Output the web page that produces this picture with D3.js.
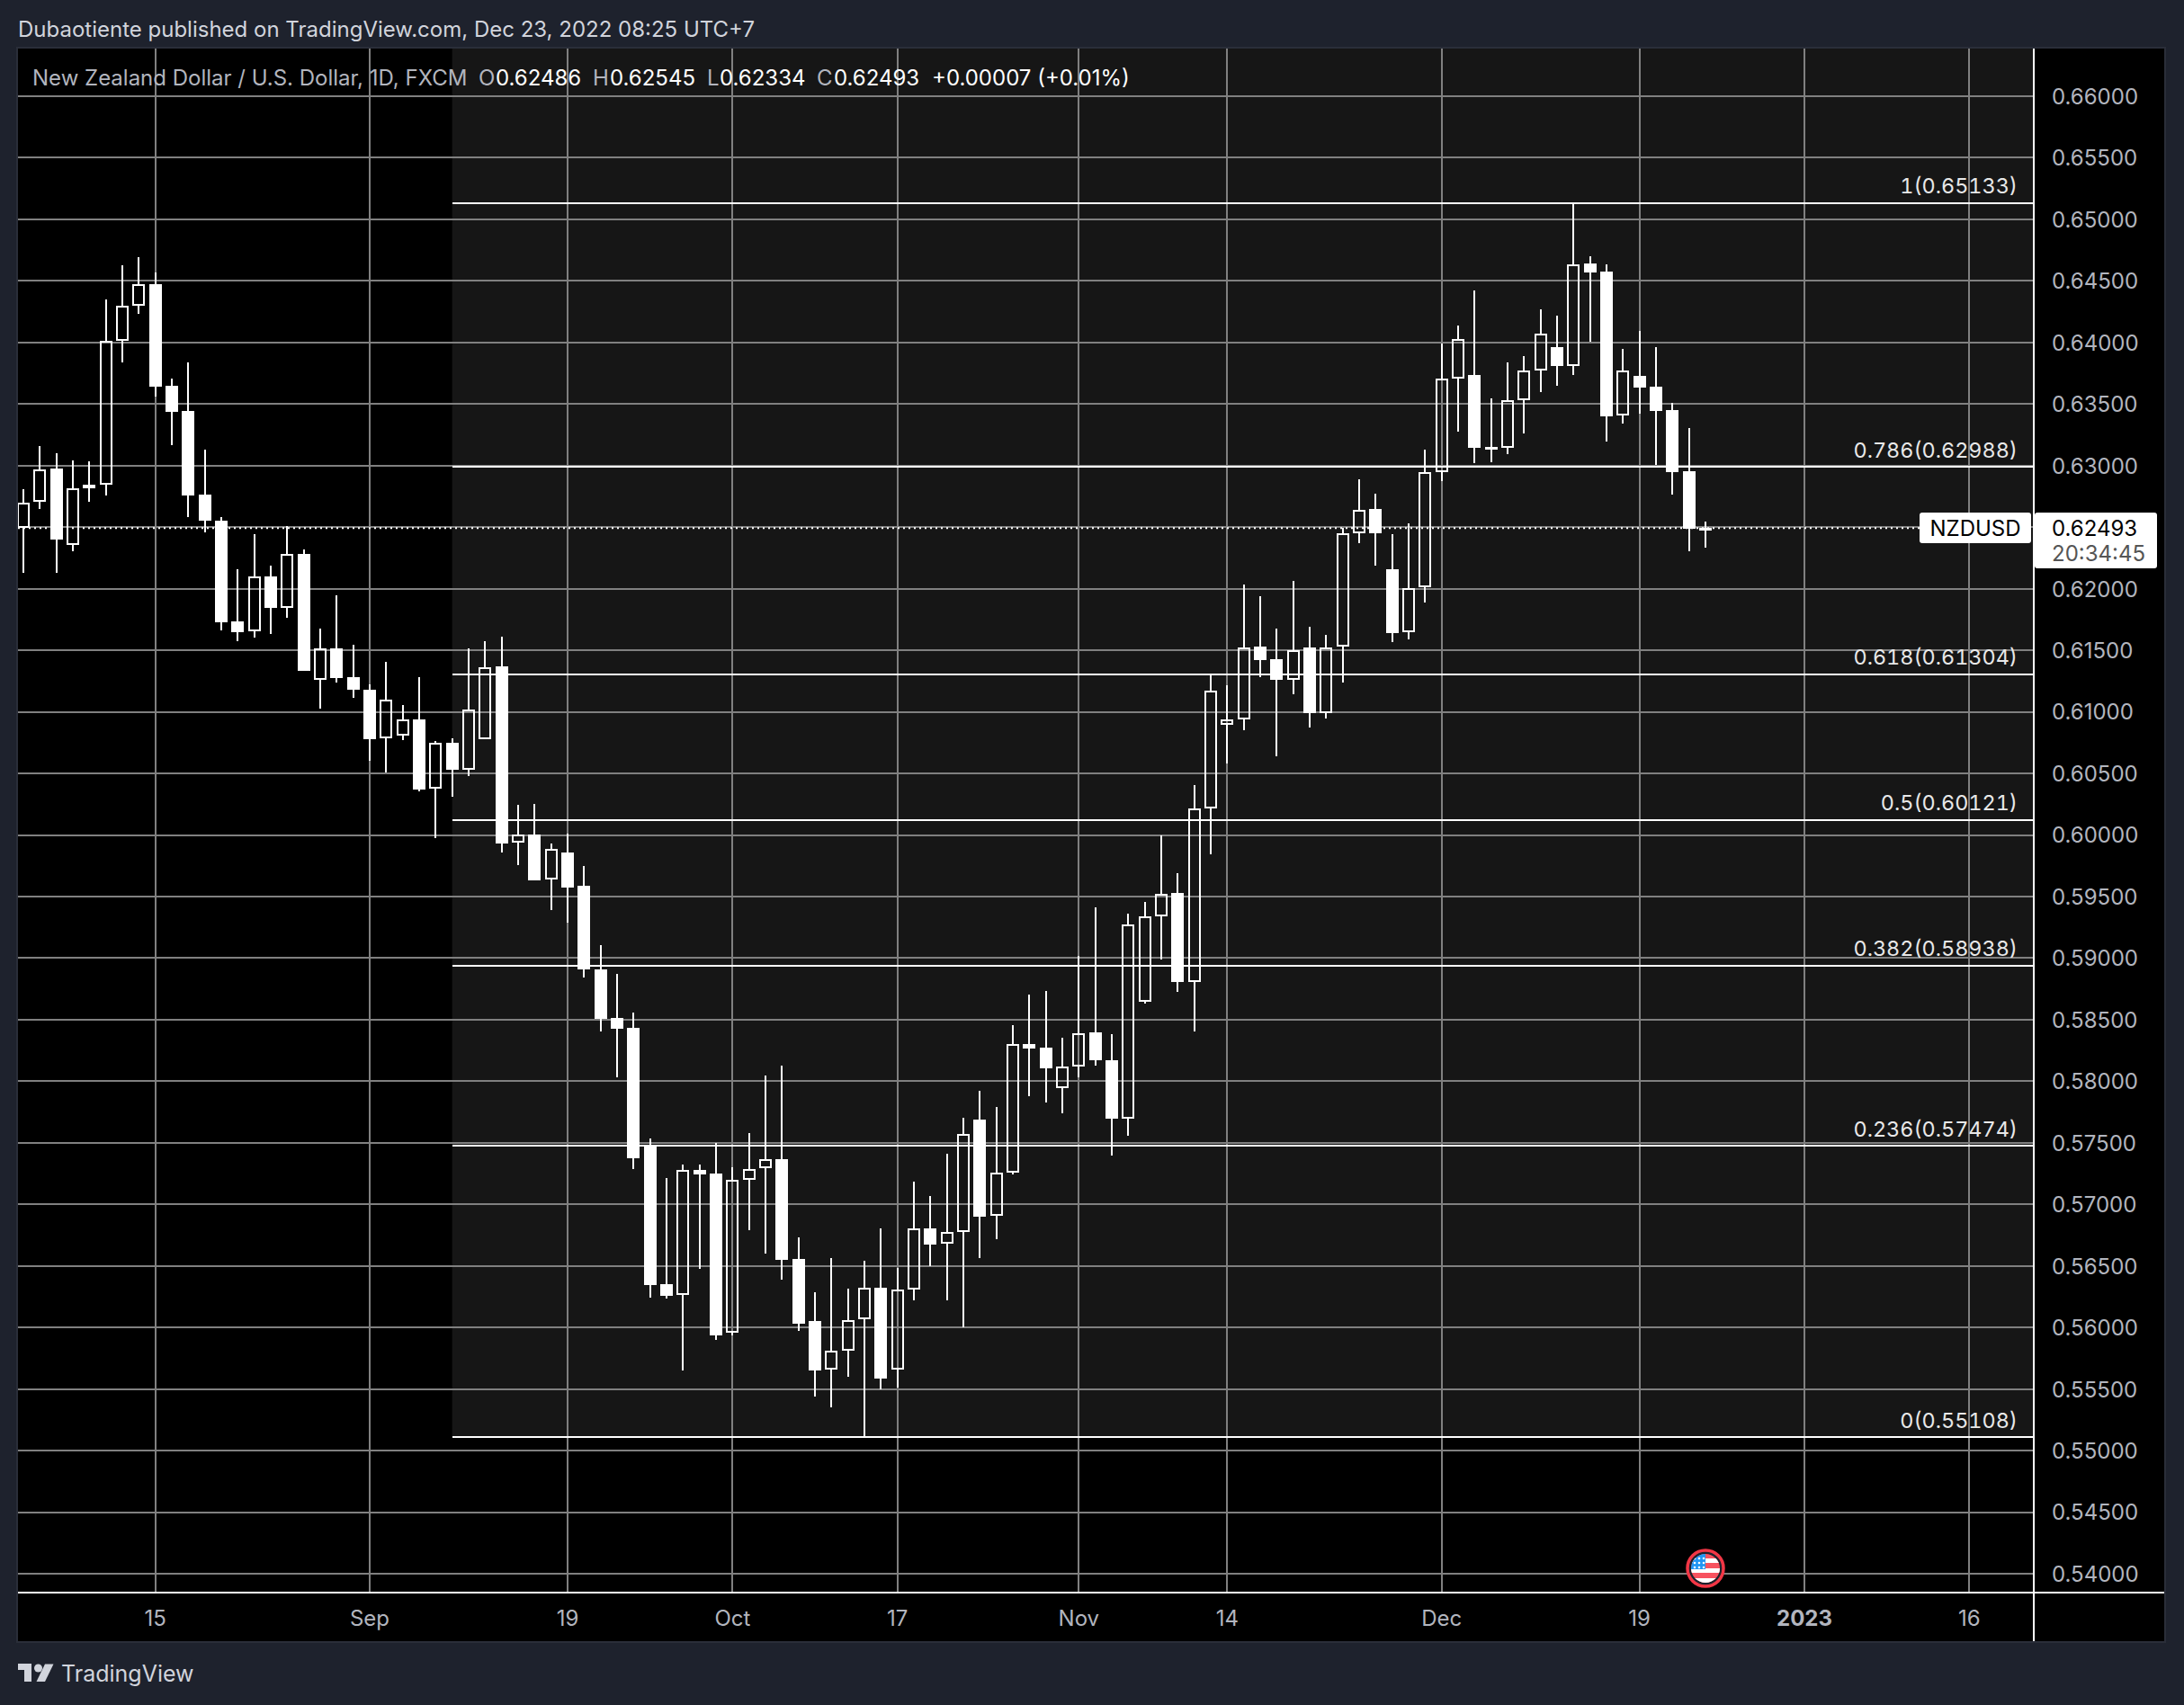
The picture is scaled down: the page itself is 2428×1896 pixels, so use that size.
<!DOCTYPE html>
<html>
<head>
<meta charset="utf-8">
<title>NZDUSD</title>
<script src="https://cdn.jsdelivr.net/npm/d3@7"></script>
<style>
  html, body { margin: 0; padding: 0; background: #1e222d; }
  text { font-family: Inter, "Noto Sans", sans-serif; }
  .fiblabel { font-variant-numeric: tabular-nums; }
</style>
</head>
<body>
<div id="canvas"></div>
<script>
"use strict"

/* Daily candles */
let opens = [
    0.62491, 0.62703, 0.62973, 0.62354, 0.62814, 0.62843, 0.64014, 0.64298, 0.64477, 0.63645,
    0.63446, 0.62761, 0.62556, 0.61731, 0.61652, 0.62102, 0.61845, 0.62285, 0.61258, 0.61519,
    0.61284, 0.61183, 0.60785, 0.60804, 0.60941, 0.60374, 0.60752, 0.60527, 0.60779, 0.61366,
    0.59936, 0.60007, 0.59638, 0.59861, 0.59584, 0.58909, 0.58515, 0.58435, 0.57475, 0.56355,
    0.56263, 0.57282, 0.57252, 0.55961, 0.57198, 0.57294, 0.57370, 0.56556, 0.56053, 0.55655,
    0.55810, 0.56066, 0.56326, 0.55655, 0.56305, 0.56808, 0.56678, 0.56776, 0.57686, 0.56907,
    0.57257, 0.58305, 0.58271, 0.57943, 0.58119, 0.58394, 0.58174, 0.57697, 0.58648, 0.59342,
    0.59528, 0.58808, 0.60218, 0.60896, 0.60941, 0.61530, 0.61426, 0.61262, 0.61523, 0.60993,
    0.61531, 0.62452, 0.62648, 0.62160, 0.61644, 0.62013, 0.62948, 0.63704, 0.63736, 0.63144,
    0.63147, 0.63534, 0.63776, 0.63964, 0.63811, 0.64642, 0.64576, 0.63404, 0.63730, 0.63641,
    0.63453, 0.62957, 0.62486
];
let highs = [
    0.62807, 0.63156, 0.63097, 0.63045, 0.63032, 0.64347, 0.64624, 0.64689, 0.64565, 0.63704,
    0.63835, 0.63127, 0.62579, 0.62155, 0.62445, 0.62190, 0.62507, 0.62318, 0.61678, 0.61943,
    0.61545, 0.61222, 0.61404, 0.61055, 0.61284, 0.60765, 0.60788, 0.61517, 0.61571, 0.61613,
    0.60246, 0.60255, 0.59932, 0.60011, 0.59751, 0.59102, 0.58875, 0.58561, 0.57533, 0.57215,
    0.57324, 0.57324, 0.57500, 0.57303, 0.57580, 0.58049, 0.58129, 0.56733, 0.56288, 0.56565,
    0.56317, 0.56544, 0.56808, 0.56485, 0.57185, 0.57068, 0.57412, 0.57701, 0.57921, 0.57794,
    0.58454, 0.58700, 0.58730, 0.58350, 0.59021, 0.59409, 0.58380, 0.59360, 0.59453, 0.60000,
    0.59688, 0.60404, 0.61299, 0.61213, 0.62034, 0.61940, 0.61676, 0.62063, 0.61691, 0.61623,
    0.62492, 0.62890, 0.62772, 0.62446, 0.62532, 0.63130, 0.63993, 0.64137, 0.64423, 0.63545,
    0.63840, 0.63889, 0.64270, 0.64218, 0.65133, 0.64700, 0.64633, 0.63950, 0.64094, 0.63964,
    0.63508, 0.63306, 0.62545
];
let lows = [
    0.62129, 0.62644, 0.62129, 0.62301, 0.62706, 0.62755, 0.63841, 0.64229, 0.63557, 0.63169,
    0.62585, 0.62461, 0.61659, 0.61571, 0.61600, 0.61629, 0.61766, 0.61330, 0.61023, 0.61235,
    0.61111, 0.60605, 0.60507, 0.60771, 0.60351, 0.59972, 0.60312, 0.60481, 0.60779, 0.59861,
    0.59756, 0.59634, 0.59391, 0.59290, 0.58846, 0.58406, 0.58032, 0.57290, 0.56242, 0.56238,
    0.55647, 0.56477, 0.55902, 0.55932, 0.56791, 0.56603, 0.56389, 0.55974, 0.55441, 0.55353,
    0.55600, 0.55108, 0.55500, 0.55512, 0.56221, 0.56500, 0.56221, 0.56000, 0.56560, 0.56720,
    0.57246, 0.57876, 0.57824, 0.57742, 0.58029, 0.58130, 0.57399, 0.57559, 0.58629, 0.58987,
    0.58723, 0.58402, 0.59841, 0.60579, 0.60848, 0.61280, 0.60639, 0.61142, 0.60870, 0.60945,
    0.61237, 0.62368, 0.62189, 0.61563, 0.61592, 0.61889, 0.62876, 0.63277, 0.63020, 0.63029,
    0.63095, 0.63263, 0.63597, 0.63649, 0.63736, 0.64007, 0.63196, 0.63343, 0.63421, 0.63003,
    0.62766, 0.62307, 0.62334
];
let closes = [
    0.62699, 0.62967, 0.62396, 0.62817, 0.62846, 0.64014, 0.64298, 0.64474, 0.63639, 0.63440,
    0.62755, 0.62549, 0.61724, 0.61649, 0.62099, 0.61841, 0.62282, 0.61336, 0.61515, 0.61277,
    0.61176, 0.60781, 0.61098, 0.60938, 0.60370, 0.60749, 0.60533, 0.61018, 0.61362, 0.59932,
    0.60003, 0.59634, 0.59886, 0.59575, 0.58905, 0.58510, 0.58427, 0.57374, 0.56347, 0.56259,
    0.57278, 0.57244, 0.55936, 0.57198, 0.57290, 0.57366, 0.56552, 0.56032, 0.55651, 0.55810,
    0.56062, 0.56322, 0.55588, 0.56305, 0.56804, 0.56674, 0.56774, 0.57570, 0.56903, 0.57257,
    0.58301, 0.58264, 0.58107, 0.58119, 0.58391, 0.58167, 0.57693, 0.59274, 0.59342, 0.59524,
    0.58805, 0.60218, 0.61169, 0.60941, 0.61526, 0.61418, 0.61258, 0.61500, 0.60990, 0.61526,
    0.62449, 0.62642, 0.62452, 0.61641, 0.62007, 0.62945, 0.63704, 0.64025, 0.63144, 0.63155,
    0.63534, 0.63776, 0.64074, 0.63808, 0.64636, 0.64570, 0.63401, 0.63776, 0.63635, 0.63444,
    0.62948, 0.62486, 0.62493
];

/* Axis ticks */
let priceTicks = [
    0.54, 0.545, 0.55, 0.555, 0.56, 0.565, 0.57, 0.575, 0.58, 0.585, 0.59, 0.595, 0.6,
    0.605, 0.61, 0.615, 0.62, 0.625, 0.63, 0.635, 0.64, 0.645, 0.65, 0.655, 0.66
];
let dateTicks = [8, 21, 33, 43, 53, 64, 73, 86, 98, 108, 118];   // bar numbers
let dateLabels = ["15", "Sep", "19", "Oct", "17", "Nov", "14", "Dec", "19", "2023", "16"];

/* Fibonacci retracement */
let fibRatios = ["1", "0.786", "0.618", "0.5", "0.382", "0.236", "0"];
let fibPrices = [0.65133, 0.62988, 0.61304, 0.60121, 0.58938, 0.57474, 0.55108];
let fibStartBar = 26;

/* Last price */
let lastPrice = 0.62493;
let lastBar = 102;

/* Configuration: drawing */
let svgWidth = 2428;
let svgHeight = 1896;
let paneLeft = 20;
let paneRight = 2261;
let paneTop = 54;
let paneBottom = 1771;
let outerRight = 2406;
let outerBottom = 1825;

let pageColor = "#1e222d";
let borderColor = "#2a2e39";
let gridColor = "#808080";
let shadeColor = "#161616";
let axisTextColor = "#b2b5be";

let svg = d3.select("#canvas")
    .append("svg")
    .attr("width", svgWidth)
    .attr("height", svgHeight)
    .style("display", "block");

/* Scales */
let xScale = d3.scaleLinear()
    .domain([0, lastBar])
    .range([26, 1896]);

let yScale = d3.scaleLinear()
    .domain([0.54, 0.66])
    .range([1750, 107]);

/* Page and pane backgrounds */
svg.append("rect")
    .attr("width", svgWidth)
    .attr("height", svgHeight)
    .attr("fill", pageColor);

svg.append("rect")
    .attr("x", paneLeft - 1)
    .attr("y", paneTop - 1)
    .attr("width", outerRight - paneLeft + 2)
    .attr("height", outerBottom - paneTop + 2)
    .attr("fill", "#000")
    .attr("stroke", borderColor)
    .attr("stroke-width", 2);

/* Shaded part of the fib tool runs from the top of the pane to level 0 */
svg.append("rect")
    .attr("x", xScale(fibStartBar))
    .attr("y", paneTop)
    .attr("width", paneRight - xScale(fibStartBar))
    .attr("height", yScale(d3.min(fibPrices)) - paneTop)
    .attr("fill", shadeColor);

/* Grid */
let grid = svg.append("g")
    .attr("stroke", gridColor)
    .attr("stroke-width", 2)
    .attr("shape-rendering", "crispEdges");

grid.selectAll(".hgrid")
    .data(priceTicks)
    .join("line")
    .attr("class", "hgrid")
    .attr("x1", paneLeft)
    .attr("x2", paneRight)
    .attr("y1", d => yScale(d))
    .attr("y2", d => yScale(d));

grid.selectAll(".vgrid")
    .data(dateTicks)
    .join("line")
    .attr("class", "vgrid")
    .attr("x1", d => xScale(d))
    .attr("x2", d => xScale(d))
    .attr("y1", paneTop)
    .attr("y2", paneBottom);

/* Fib levels */
svg.selectAll(".fibline")
    .data(fibPrices)
    .join("line")
    .attr("class", "fibline")
    .attr("x1", xScale(fibStartBar))
    .attr("x2", paneRight)
    .attr("y1", d => yScale(d))
    .attr("y2", d => yScale(d))
    .attr("stroke", "#fff")
    .attr("stroke-width", 2)
    .attr("shape-rendering", "crispEdges");

svg.selectAll(".fiblabel")
    .data(fibPrices)
    .join("text")
    .attr("class", "fiblabel")
    .attr("x", 2243)
    .attr("y", d => yScale(d) - 10.5)
    .attr("text-anchor", "end")
    .attr("font-size", 23.4)
    .attr("fill", "#e8e8e8")
    .text((d, i) => fibRatios[i] + "(" + d.toFixed(5) + ")");

/* Dotted last price line */
svg.append("line")
    .attr("x1", paneLeft)
    .attr("x2", 2134)
    .attr("y1", yScale(lastPrice))
    .attr("y2", yScale(lastPrice))
    .attr("stroke", "#fff")
    .attr("stroke-width", 2)
    .attr("stroke-dasharray", "2 4");

/* Candles */
svg.append("clipPath")
    .attr("id", "pane-clip")
    .append("rect")
    .attr("x", paneLeft)
    .attr("y", paneTop)
    .attr("width", paneRight - paneLeft)
    .attr("height", paneBottom - paneTop);

let bars = d3.range(opens.length);
let candles = svg.append("g")
    .attr("clip-path", "url(#pane-clip)")
    .attr("shape-rendering", "crispEdges");

// wicks stop at the body, a hollow body has nothing running through it
candles.selectAll(".upperwick")
    .data(bars)
    .join("line")
    .attr("class", "upperwick")
    .attr("x1", d => Math.round(xScale(d)))
    .attr("x2", d => Math.round(xScale(d)))
    .attr("y1", d => yScale(highs[d]))
    .attr("y2", d => yScale(Math.max(opens[d], closes[d])))
    .attr("stroke", "#fff")
    .attr("stroke-width", 2);

candles.selectAll(".lowerwick")
    .data(bars)
    .join("line")
    .attr("class", "lowerwick")
    .attr("x1", d => Math.round(xScale(d)))
    .attr("x2", d => Math.round(xScale(d)))
    .attr("y1", d => yScale(Math.min(opens[d], closes[d])))
    .attr("y2", d => yScale(lows[d]))
    .attr("stroke", "#fff")
    .attr("stroke-width", 2);

// falling days are solid, rising days are hollow so the grid shows through
let fallingBars = bars.filter(d => closes[d] < opens[d]);
let risingBars = bars.filter(d => closes[d] >= opens[d]);

candles.selectAll(".down")
    .data(fallingBars)
    .join("rect")
    .attr("class", "down")
    .attr("x", d => Math.round(xScale(d)) - 7)
    .attr("width", 14)
    .attr("y", d => yScale(opens[d]))
    .attr("height", d => Math.max(yScale(closes[d]) - yScale(opens[d]), 2))
    .attr("fill", "#fff");

candles.selectAll(".up")
    .data(risingBars)
    .join("rect")
    .attr("class", "up")
    .attr("x", d => Math.round(xScale(d)) - 6)
    .attr("width", 12)
    .attr("y", d => yScale(closes[d]) + 1)
    .attr("height", d => Math.max(yScale(opens[d]) - yScale(closes[d]) - 2, 1))
    .attr("fill", "none")
    .attr("stroke", "#fff")
    .attr("stroke-width", 2);

/* Axis lines */
let axisLines = svg.append("g")
    .attr("stroke", "#fff")
    .attr("stroke-width", 2)
    .attr("shape-rendering", "crispEdges");

axisLines.append("line")
    .attr("x1", paneLeft)
    .attr("x2", outerRight)
    .attr("y1", paneBottom)
    .attr("y2", paneBottom);

axisLines.append("line")
    .attr("x1", paneRight)
    .attr("x2", paneRight)
    .attr("y1", paneTop)
    .attr("y2", outerBottom);

/* Price axis */
let priceAxis = d3.axisRight(yScale)
    .tickValues(priceTicks)
    .tickFormat(d3.format(".5f"))
    .tickSize(0)
    .tickPadding(0)
    .offset(0);

let priceG = svg.append("g")
    .attr("transform", "translate(2281,0)")
    .call(priceAxis);
priceG.select(".domain").remove();
priceG.selectAll("text")
    .attr("font-size", 24)
    .attr("dy", "0.37em")
    .attr("fill", axisTextColor)
    .style("font-family", "Inter, 'Noto Sans', sans-serif");

/* Date axis */
let dateAxis = d3.axisBottom(xScale)
    .tickValues(dateTicks)
    .tickFormat((d, i) => dateLabels[i])
    .tickSize(0)
    .tickPadding(0)
    .offset(0);

let dateG = svg.append("g")
    .attr("transform", "translate(0,1791)")
    .call(dateAxis);
dateG.select(".domain").remove();
dateG.selectAll("text")
    .attr("font-size", 24)
    .attr("fill", axisTextColor)
    .attr("font-weight", (d, i) => dateLabels[i] === "2023" ? 700 : 400)
    .style("font-family", "Inter, 'Noto Sans', sans-serif");

/* Last price tags */
svg.append("rect")
    .attr("x", 2134)
    .attr("y", 570)
    .attr("width", 124)
    .attr("height", 34)
    .attr("rx", 3)
    .attr("fill", "#fff");

svg.append("text")
    .attr("x", 2196)
    .attr("y", 596)
    .attr("text-anchor", "middle")
    .attr("font-size", 24)
    .attr("fill", "#000")
    .text("NZDUSD");

svg.append("rect")
    .attr("x", 2262)
    .attr("y", 570)
    .attr("width", 136)
    .attr("height", 62)
    .attr("rx", 3)
    .attr("fill", "#fff");

svg.append("text")
    .attr("x", 2281)
    .attr("y", 596)
    .attr("font-size", 24)
    .attr("fill", "#000")
    .text(lastPrice.toFixed(5));

svg.append("text")
    .attr("x", 2281)
    .attr("y", 624)
    .attr("font-size", 24)
    .attr("fill", "#555")
    .text("20:34:45");

/* Title line */
svg.append("text")
    .attr("x", 20)
    .attr("y", 41)
    .attr("font-size", 24)
    .attr("fill", "#d1d4dc")
    .text("Dubaotiente published on TradingView.com, Dec 23, 2022 08:25 UTC+7");

/* Legend line */
let legendY = 95;
let legendParts = [
    { x: 36, text: "New Zealand Dollar / U.S. Dollar, 1D, FXCM", fill: axisTextColor },
    { x: 532, text: "O", fill: axisTextColor },
    { x: 551, text: opens[lastBar].toFixed(5), fill: "#fff" },
    { x: 659, text: "H", fill: axisTextColor },
    { x: 678, text: highs[lastBar].toFixed(5), fill: "#fff" },
    { x: 786, text: "L", fill: axisTextColor },
    { x: 800, text: lows[lastBar].toFixed(5), fill: "#fff" },
    { x: 908, text: "C", fill: axisTextColor },
    { x: 927, text: closes[lastBar].toFixed(5), fill: "#fff" },
    { x: 1036, text: "+0.00007 (+0.01%)", fill: "#fff" }
];

svg.selectAll(".legend")
    .data(legendParts)
    .join("text")
    .attr("class", "legend")
    .attr("x", d => d.x)
    .attr("y", legendY)
    .attr("font-size", 24)
    .attr("fill", d => d.fill)
    .text(d => d.text);

/* US event flag */
let flagX = xScale(lastBar);
let flagY = 1744;
svg.append("clipPath")
    .attr("id", "flag-clip")
    .append("circle")
    .attr("cx", flagX)
    .attr("cy", flagY)
    .attr("r", 16);

svg.append("circle")
    .attr("cx", flagX)
    .attr("cy", flagY)
    .attr("r", 20)
    .attr("fill", pageColor)
    .attr("stroke", "#f23645")
    .attr("stroke-width", 3.5);

let flag = svg.append("g").attr("clip-path", "url(#flag-clip)");
flag.append("rect")
    .attr("x", flagX - 16)
    .attr("y", flagY - 16)
    .attr("width", 32)
    .attr("height", 32)
    .attr("fill", "#f7525f");

d3.range(3).forEach(function(i) {
    flag.append("rect")
        .attr("x", flagX - 16)
        .attr("y", flagY - 11 + i * 11)
        .attr("width", 32)
        .attr("height", 5)
        .attr("fill", "#fff");
});

flag.append("rect")
    .attr("x", flagX - 16)
    .attr("y", flagY - 16)
    .attr("width", 16)
    .attr("height", 17)
    .attr("fill", "#2196f3");

d3.range(3).forEach(function(row) {
    d3.range(3).forEach(function(col) {
        flag.append("circle")
            .attr("cx", flagX - 12 + col * 5)
            .attr("cy", flagY - 11 + row * 5)
            .attr("r", 1.3)
            .attr("fill", "#fff");
    });
});

/* TradingView logo */
let logo = svg.append("g").attr("fill", "#d1d4dc");
logo.append("path").attr("d", "M20 1850H35V1870H27V1857H20Z");
logo.append("circle").attr("cx", 42.5).attr("cy", 1855).attr("r", 4.5);
logo.append("path").attr("d", "M50 1850.5H59.5L50 1870H40.5Z");

svg.append("text")
    .attr("x", 68)
    .attr("y", 1870)
    .attr("font-size", 25)
    .attr("fill", "#d1d4dc")
    .text("TradingView");
</script>
</body>
</html>
